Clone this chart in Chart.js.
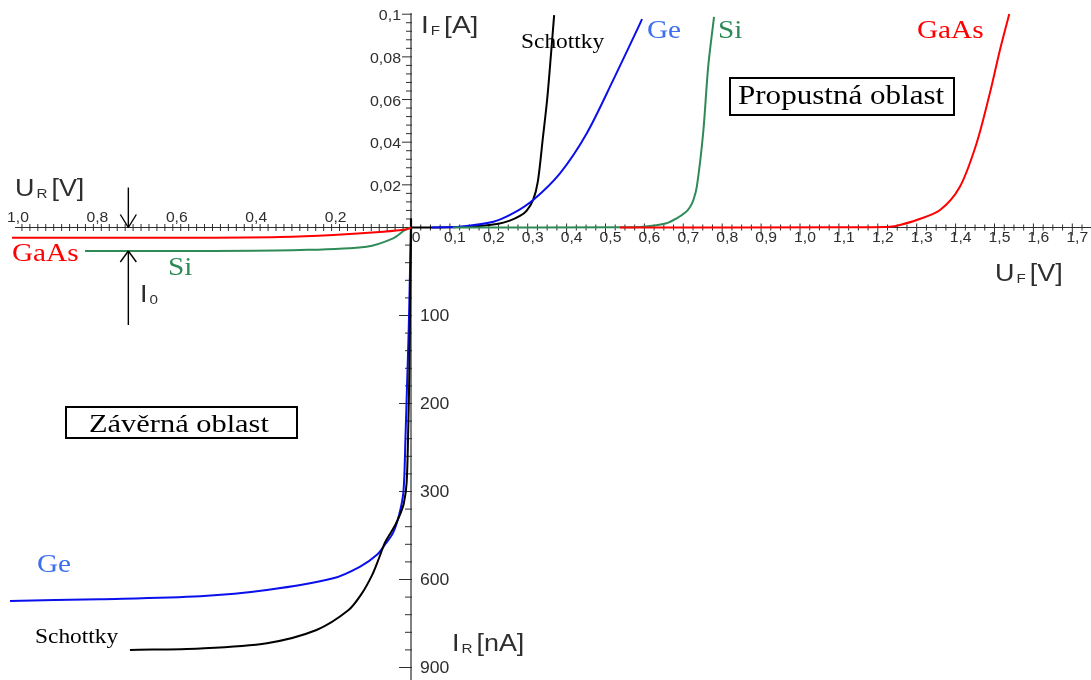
<!DOCTYPE html>
<html lang="cs">
<head>
<meta charset="utf-8">
<title>VA charakteristiky diod</title>
<script src="https://cdn.jsdelivr.net/npm/chart.js@4.4.1/dist/chart.umd.min.js"></script>
<style>
    html, body { margin: 0; padding: 0; background: #fff; }
    #wrap { width: 1091px; height: 680px; }
    canvas { display: block; }
</style>
</head>
<body>
<div id="wrap"><canvas id="diodeChart" width="1091" height="680"></canvas></div>
<script>
/**
 * VA characteristics of GaAs, Si, Ge and Schottky diodes
 * forward branch in A, reverse branch in nA (broken scale)
 */

// ---- data ----
// forward branch: U_F [V] / I_F [A]
const SCHOTTKY_FWD_U = [0, 0.10, 0.177, 0.221, 0.254, 0.280, 0.297, 0.314, 0.326, 0.339, 0.350, 0.358, 0.368];
const SCHOTTKY_FWD_I = [0, 0.0001, 0.0007, 0.0016, 0.0032, 0.0054, 0.0078, 0.0129, 0.0215, 0.0420, 0.0600, 0.0770, 0.0996];

const GE_FWD_U = [0.054, 0.126, 0.212, 0.263, 0.314, 0.383, 0.452, 0.520, 0.589, 0.594];
const GE_FWD_I = [0, 0.0004, 0.0027, 0.0067, 0.0129, 0.0254, 0.0442, 0.0692, 0.0957, 0.0977];

const SI_FWD_U = [0.108, 0.537, 0.597, 0.657, 0.683, 0.705, 0.717, 0.726, 0.735, 0.751, 0.764, 0.779];
const SI_FWD_I = [0, 0.0001, 0.0004, 0.002, 0.0043, 0.0070, 0.0095, 0.0129, 0.0194, 0.0442, 0.0754, 0.0988];

const GAAS_FWD_U = [0.537, 1.103, 1.231, 1.257, 1.300, 1.360, 1.411, 1.454, 1.488, 1.514, 1.538];
const GAAS_FWD_I = [0, 0.0001, 0.0004, 0.0012, 0.0035, 0.0082, 0.0191, 0.0395, 0.0629, 0.0832, 0.1001];

// reverse branch: U_R [V] / I_R [nA]
const GAAS_REV_U = [0, 0.011, 0.070, 0.196, 0.33, 0.53, 1.005];
const GAAS_REV_I = [0, 2, 4.8, 8.5, 10.8, 11.6, 11.6];

const SI_REV_U = [0, 0.015, 0.045, 0.112, 0.28, 0.53, 0.821];
const SI_REV_I = [0, 2.8, 12.3, 21.8, 25.6, 26.7, 26.7];

const GE_REV_U = [0, 0.003, 0.006, 0.010, 0.014, 0.019, 0.030, 0.045, 0.064, 0.085, 0.128, 0.196, 0.363, 0.531, 0.783, 1.01];
const GE_REV_I = [0, 60, 120, 180, 240, 300, 380, 440, 478, 515, 556, 596, 636, 657, 667, 673];

const SCHOTTKY_REV_U = [0, 0.002, 0.004, 0.007, 0.011, 0.018, 0.028, 0.040, 0.053, 0.066, 0.080, 0.098, 0.125, 0.158, 0.238, 0.363, 0.531, 0.708];
const SCHOTTKY_REV_I = [0, 80, 160, 230, 290, 340, 380, 415, 445, 475, 525, 585, 650, 705, 772, 817, 835, 840];

// tick labels
const UF_TICKS = [0, 0.1, 0.2, 0.3, 0.4, 0.5, 0.6, 0.7, 0.8, 0.9, 1.0, 1.1, 1.2, 1.3, 1.4, 1.5, 1.6, 1.7];
const UR_TICKS = [0.2, 0.4, 0.6, 0.8, 1.0];
const IF_TICKS = [0.02, 0.04, 0.06, 0.08, 0.1];
const IF_TICK_LABELS = ['0,02', '0,04', '0,06', '0,08', '0,1'];
const IR_TICKS = [100, 200, 300, 600, 900];

// voltage where the I0 arrows sit
const I0_MARK_U = 0.712;

// ---- layout of the crossing axes ----
const W = 1091, H = 680;
const ORIGIN_X = 411, ORIGIN_Y = 227.5;
const PX_PER_VF = 389;     // forward voltage
const PX_PER_VR = 397;     // reverse voltage
const PX_PER_AF = 2133;    // forward current
const PX_PER_IR_STEP = 88; // one reverse tick step

const AXIS_COLOR = '#2e2e2e';
const TICK_TEXT = '#2e2e2e';
const SANS = '"Liberation Sans", Arial, sans-serif';
const SERIF = '"Liberation Serif", "Times New Roman", serif';
const SX = 1.17; // the lettering of the original is stretched horizontally

const RED = '#ff0000', GREEN = '#2e8b57', BLUE = '#0a10ec', BLACK = '#000000';
const GE_LABEL = '#3d6ef0';

// reverse current axis: 100, 200, 300, 600, 900 nA at equal steps
function irToUnits(v) {
    const b = [0].concat(IR_TICKS);
    for (let i = 1; i < b.length; i++) {
        if (v <= b[i] || i === b.length - 1) {
            return (i - 1) + (v - b[i - 1]) / (b[i] - b[i - 1]);
        }
    }
    return 0;
}

class NanoampScale extends Chart.LinearScale {
    getPixelForValue(value) {
        return super.getPixelForValue(irToUnits(value));
    }
    getPixelForUnits(units) {
        return super.getPixelForValue(units);
    }
}
NanoampScale.id = 'nanoamp';
NanoampScale.defaults = Chart.LinearScale.defaults;
Chart.register(NanoampScale);

function series(label, us, is, color, xAxisID, yAxisID) {
    return {
        label: label,
        data: us.map((u, k) => ({ x: u, y: is[k] })),
        borderColor: color,
        backgroundColor: color,
        borderWidth: 2,
        pointRadius: 0,
        fill: false,
        tension: 0.3,
        xAxisID: xAxisID,
        yAxisID: yAxisID
    };
}

// text helper, returns drawn width
function drawText(ctx, text, x, y, font, color, align, baseline, sx) {
    const s = sx || SX;
    ctx.save();
    ctx.font = font;
    ctx.fillStyle = color || '#000';
    ctx.textAlign = align || 'left';
    ctx.textBaseline = baseline || 'alphabetic';
    ctx.translate(x, y);
    ctx.scale(s, 1);
    ctx.fillText(text, 0, 0);
    const w = ctx.measureText(text).width * s;
    ctx.restore();
    return w;
}

// quantity with subscript, e.g. I_F [A]
function drawQuantity(ctx, main, sub, rest, x, y, size) {
    let w = drawText(ctx, main, x, y, size + 'px ' + SANS, AXIS_COLOR);
    x += w + 2;
    w = drawText(ctx, sub, x, y + size * 0.1, Math.round(size * 0.55) + 'px ' + SANS, AXIS_COLOR);
    x += w + 4;
    if (rest) drawText(ctx, rest, x, y, size + 'px ' + SANS, AXIS_COLOR);
}

function seg(ctx, x1, y1, x2, y2) {
    ctx.beginPath();
    ctx.moveTo(x1, y1);
    ctx.lineTo(x2, y2);
    ctx.stroke();
}

function comma(v, d) {
    return v.toFixed(d).replace('.', ',');
}

// axes, ticks and tick labels
const crossAxes = {
    id: 'crossAxes',
    beforeDatasetsDraw(chart) {
        const ctx = chart.ctx;
        const { x, xr, y, yr } = chart.scales;
        const ox = x.getPixelForValue(0);
        const oy = y.getPixelForValue(0);

        ctx.save();
        ctx.strokeStyle = AXIS_COLOR;
        ctx.lineWidth = 1.2;

        // axis lines
        seg(ctx, xr.getPixelForValue(1.0) + 1, oy, chart.chartArea.right, oy);
        seg(ctx, ox, y.getPixelForValue(0.1) - 1, ox, chart.chartArea.bottom);

        ctx.lineWidth = 1;
        // forward voltage ticks, every 0.025 V
        for (let i = 1; i <= 70; i++) {
            const px = x.getPixelForValue(i * 0.025);
            if (i % 4 === 0) seg(ctx, px, oy - 4, px, oy + 8);
            else seg(ctx, px, oy - 3, px, oy + 3);
        }
        // reverse voltage ticks, every 0.02 V
        for (let i = 1; i <= 49; i++) {
            const px = xr.getPixelForValue(i * 0.02);
            seg(ctx, px, oy - 3.5, px, oy + 3.5);
        }
        // forward current ticks, every 0.004 A
        for (let i = 1; i <= 25; i++) {
            const py = y.getPixelForValue(i * 0.004);
            if (i % 5 === 0) seg(ctx, ox - 9, py, ox + 1, py);
            else seg(ctx, ox - 5, py, ox + 1, py);
        }
        // reverse current ticks, five per step
        for (let i = 1; i <= 25; i++) {
            const py = yr.getPixelForUnits(i / 5);
            if (i % 5 === 0) seg(ctx, ox - 12, py, ox + 1, py);
            else seg(ctx, ox - 6, py, ox + 1, py);
        }

        // tick labels
        UF_TICKS.forEach(v => {
            drawText(ctx, v === 0 ? '0' : comma(v, 1), x.getPixelForValue(v) + 5, oy + 4,
                '14px ' + SANS, TICK_TEXT, 'center', 'top', 1.12);
        });
        UR_TICKS.forEach(v => {
            drawText(ctx, comma(v, 1), xr.getPixelForValue(v) + 4, oy - 6,
                '14px ' + SANS, TICK_TEXT, 'center', 'alphabetic', 1.12);
        });
        IF_TICKS.forEach((v, k) => {
            drawText(ctx, IF_TICK_LABELS[k], ox - 10, y.getPixelForValue(v) + 2,
                '14.5px ' + SANS, TICK_TEXT, 'right', 'middle', 1.1);
        });
        IR_TICKS.forEach(v => {
            drawText(ctx, String(v), ox + 9, yr.getPixelForValue(v) + 1,
                '16px ' + SANS, TICK_TEXT, 'left', 'middle', 1.1);
        });

        // heavy mark at the origin
        ctx.strokeStyle = '#000';
        ctx.lineWidth = 2.2;
        seg(ctx, ox, oy - 9, ox, oy + 10);
        ctx.restore();
    },

    afterDatasetsDraw(chart) {
        const ctx = chart.ctx;
        const { xr, yr } = chart.scales;

        // axis quantities
        drawQuantity(ctx, 'I', 'F', '[A]', 421, 33, 24);
        drawQuantity(ctx, 'U', 'R', '[V]', 15, 196, 23);
        drawQuantity(ctx, 'U', 'F', '[V]', 995, 281, 23);
        drawQuantity(ctx, 'I', 'R', '[nA]', 452, 651, 23);
        drawQuantity(ctx, 'I', '0', '', 140, 302, 23);

        // curve names
        drawText(ctx, 'Schottky', 521, 48, '20px ' + SERIF, BLACK);
        drawText(ctx, 'Ge', 647, 38, '25px ' + SERIF, GE_LABEL);
        drawText(ctx, 'Si', 718, 38, '25px ' + SERIF, GREEN);
        drawText(ctx, 'GaAs', 917, 38, '25px ' + SERIF, RED);
        drawText(ctx, 'GaAs', 12, 261, '25px ' + SERIF, RED);
        drawText(ctx, 'Si', 168, 275, '25px ' + SERIF, GREEN);
        drawText(ctx, 'Ge', 37, 572, '25px ' + SERIF, GE_LABEL);
        drawText(ctx, 'Schottky', 35, 643, '20px ' + SERIF, BLACK);

        // boxed region names
        ctx.save();
        ctx.strokeStyle = '#000';
        ctx.lineWidth = 2;
        ctx.strokeRect(730, 78, 224, 37);
        ctx.strokeRect(66, 407, 231, 31);
        ctx.restore();
        drawText(ctx, 'Propustná oblast', 738, 104, '27px ' + SERIF, BLACK, 'left', 'alphabetic', 1.15);
        drawText(ctx, 'Závěrná oblast', 89, 432, '26px ' + SERIF, BLACK, 'left', 'alphabetic', 1.17);

        // I0 arrows, from the axis down to the Si saturation current
        const ax = xr.getPixelForValue(I0_MARK_U);
        const top = yr.getPixelForValue(0);
        const bot = yr.getPixelForValue(SI_REV_I[SI_REV_I.length - 1]);
        ctx.save();
        ctx.strokeStyle = '#000';
        ctx.lineWidth = 1.4;
        seg(ctx, ax, top - 40, ax, top);
        seg(ctx, ax - 8, top - 13, ax, top);
        seg(ctx, ax + 8, top - 13, ax, top);
        seg(ctx, ax, bot, ax, bot + 74);
        seg(ctx, ax - 8, bot + 11, ax, bot);
        seg(ctx, ax + 8, bot + 11, ax, bot);
        ctx.restore();
    }
};

document.addEventListener('DOMContentLoaded', function() {
    const ctx = document.getElementById('diodeChart');

    new Chart(ctx, {
        type: 'line',
        data: {
            datasets: [
                // first dataset is drawn on top
                series('GaAs', GAAS_FWD_U, GAAS_FWD_I, RED, 'x', 'y'),
                series('Si', SI_FWD_U, SI_FWD_I, GREEN, 'x', 'y'),
                series('Ge', GE_FWD_U, GE_FWD_I, BLUE, 'x', 'y'),
                series('Schottky', SCHOTTKY_FWD_U, SCHOTTKY_FWD_I, BLACK, 'x', 'y'),
                series('GaAs (závěrný)', GAAS_REV_U, GAAS_REV_I, RED, 'xr', 'yr'),
                series('Si (závěrný)', SI_REV_U, SI_REV_I, GREEN, 'xr', 'yr'),
                series('Schottky (závěrný)', SCHOTTKY_REV_U, SCHOTTKY_REV_I, BLACK, 'xr', 'yr'),
                series('Ge (závěrný)', GE_REV_U, GE_REV_I, BLUE, 'xr', 'yr')
            ]
        },
        options: {
            responsive: false,
            devicePixelRatio: 1,
            animation: false,
            events: [],
            layout: { padding: 0 },
            scales: {
                x: {
                    type: 'linear', display: false, bounds: 'data',
                    min: -ORIGIN_X / PX_PER_VF, max: (W - ORIGIN_X) / PX_PER_VF
                },
                xr: {
                    type: 'linear', display: false, bounds: 'data', reverse: true,
                    min: -(W - ORIGIN_X) / PX_PER_VR, max: ORIGIN_X / PX_PER_VR
                },
                y: {
                    type: 'linear', display: false, bounds: 'data',
                    min: -(H - ORIGIN_Y) / PX_PER_AF, max: ORIGIN_Y / PX_PER_AF
                },
                yr: {
                    type: 'nanoamp', display: false, bounds: 'data', reverse: true,
                    min: -ORIGIN_Y / PX_PER_IR_STEP, max: (H - ORIGIN_Y) / PX_PER_IR_STEP
                }
            },
            plugins: {
                legend: { display: false },
                tooltip: { enabled: false }
            }
        },
        plugins: [crossAxes]
    });
});
</script>
</body>
</html>
